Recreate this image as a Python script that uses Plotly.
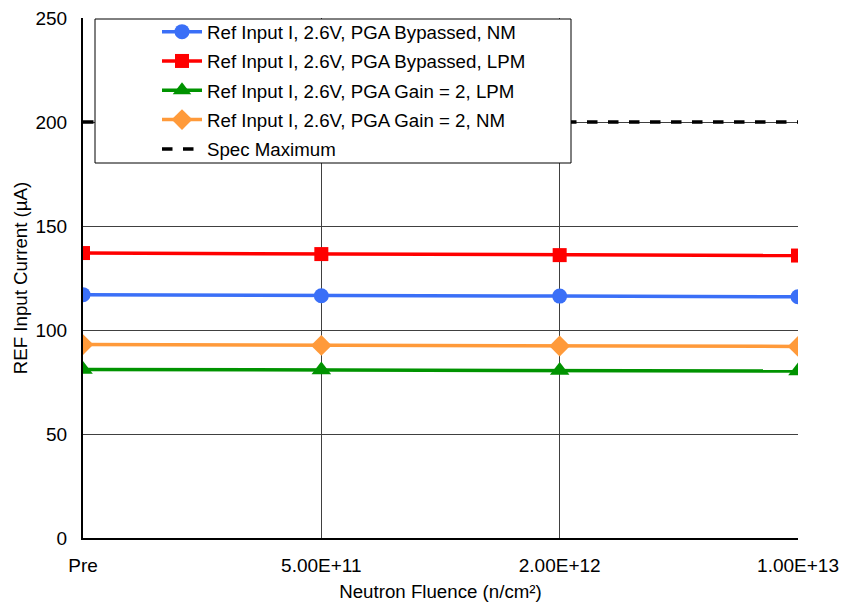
import plotly.graph_objects as go

categories = ["Pre", "5.00E+11", "2.00E+12", "1.00E+13"]
bypassed_nm = [117.0, 116.5, 116.3, 116.0]
bypassed_lpm = [137.0, 136.5, 136.0, 135.8]
gain2_lpm = [81.0, 80.8, 80.5, 80.3]
gain2_nm = [93.0, 92.6, 92.3, 92.1]
spec_max = [200, 200, 200, 200]

series = [
    ("Ref Input I, 2.6V, PGA Bypassed, NM", bypassed_nm, "#3A6FF7", "circle", 15),
    ("Ref Input I, 2.6V, PGA Bypassed, LPM", bypassed_lpm, "#FF0000", "square", 14),
    ("Ref Input I, 2.6V, PGA Gain = 2, LPM", gain2_lpm, "#009300", "triangle-up", 17),
    ("Ref Input I, 2.6V, PGA Gain = 2, NM", gain2_nm, "#FF9A3A", "diamond", 16),
]

FONT = "Liberation Sans, Arial, sans-serif"
fig = go.Figure()
for i, (name, vals, color, sym, sz) in enumerate(series):
    fig.add_trace(go.Scatter(
        x=categories, y=vals, name=name, mode="lines+markers",
        line=dict(color=color, width=3.5),
        marker=dict(symbol=sym, size=sz, color=color),
        legendgroup=f"g{i}",
    ))
fig.add_trace(go.Scatter(
    x=categories, y=spec_max, name="Spec Maximum", mode="lines",
    line=dict(color="black", width=3.5, dash="dash"), legendgroup="g4",
))

# legend box
fig.add_shape(type="rect", xref="paper", yref="paper",
              x0=(95 - 83) / 715, x1=(571 - 83) / 715,
              y0=(538 - 163) / 520, y1=(538 - 19) / 520,
              fillcolor="white", line=dict(color="black", width=1), layer="above")

fig.update_layout(
    width=841, height=602,
    margin=dict(l=83, r=43, t=18, b=64, autoexpand=False),
    plot_bgcolor="white", paper_bgcolor="white",
    font=dict(family=FONT, size=18.7, color="black"),
    showlegend=True,
    legend=dict(x=(157 - 83) / 715, y=(538 - 13) / 520, xanchor="left", yanchor="top",
                bgcolor="rgba(0,0,0,0)", borderwidth=0,
                font=dict(size=18.7), traceorder="grouped", tracegroupgap=2,
                itemwidth=40),
    xaxis=dict(
        type="category", range=[0, 3], automargin=False,
        showgrid=True, gridcolor="#404040", gridwidth=1,
        showline=True, linecolor="black", linewidth=2,
        ticks="", tickfont=dict(size=19), ticklabelstandoff=9,
        title=dict(text="Neutron Fluence (n/cm²)", font=dict(size=18.7), standoff=22),
    ),
    yaxis=dict(
        range=[0, 250], dtick=50, tick0=0, automargin=False,
        showgrid=True, gridcolor="#404040", gridwidth=1,
        showline=True, linecolor="black", linewidth=2,
        zeroline=False, ticks="", tickfont=dict(size=19), ticklabelstandoff=10,
        title=dict(text="REF Input Current (µA)", font=dict(size=18.7), standoff=3),
    ),
)
fig.write_html("out.html")
